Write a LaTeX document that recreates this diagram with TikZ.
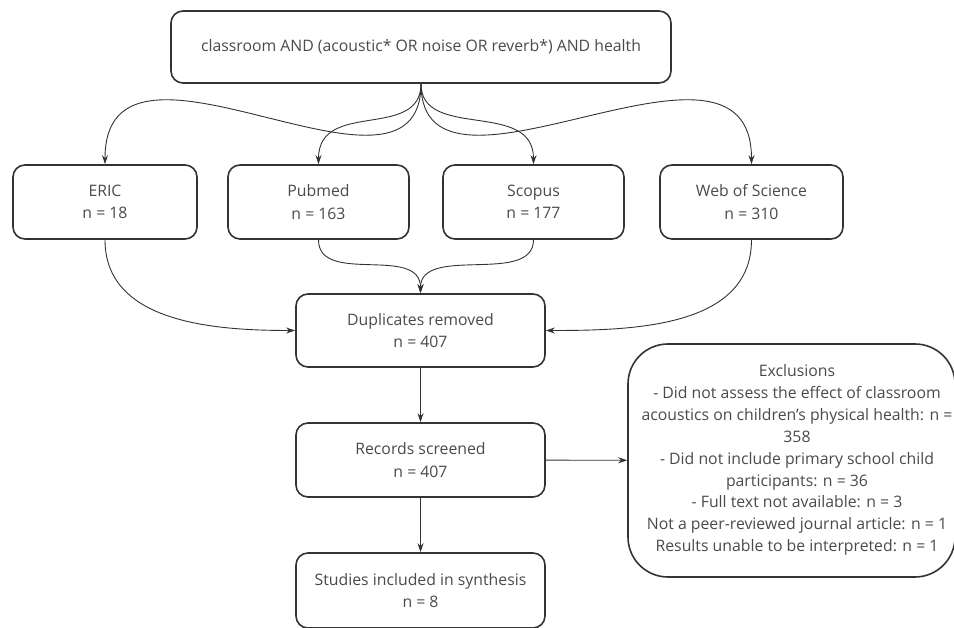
\documentclass[tikz,border=0pt]{standalone}
\usepackage{fontspec}
\setmainfont{Open Sans}
\usetikzlibrary{arrows.meta}
\definecolor{linegray}{HTML}{333333}
\definecolor{textgray}{HTML}{4A4A4A}
\begin{document}
\begin{tikzpicture}[x=1pt, y=-1pt,
  box/.style={draw=linegray, line width=1.6pt, rounded corners=12pt, align=center,
    text=textgray, font=\fontsize{15.8}{22.5}\selectfont, inner sep=0pt},
  link/.style={draw=linegray, line width=0.9pt, -{Stealth[length=9pt,width=6pt]}}]
\useasboundingbox (0,0) rectangle (954,628);
\node[box, minimum width=500pt, minimum height=72pt] (query) at (421,47){classroom AND (acoustic* OR noise OR reverb*) AND health};
\node[box, minimum width=184pt, minimum height=74pt] (eric) at (105,202){ERIC\\n = 18};
\node[box, minimum width=181pt, minimum height=74pt] (pubmed) at (318.5,202){Pubmed\\n = 163};
\node[box, minimum width=181pt, minimum height=74pt] (scopus) at (533.5,202){Scopus\\n = 177};
\node[box, minimum width=183pt, minimum height=74pt] (wos) at (751.5,202){Web of Science\\n = 310};
\node[box, minimum width=249pt, minimum height=73pt] (dup) at (420.5,330.5){Duplicates removed\\n = 407};
\node[box, minimum width=249pt, minimum height=74pt] (screen) at (420.5,460){Records screened\\n = 407};
\node[box, minimum width=249pt, minimum height=75pt] (incl) at (420.5,590.5){Studies included in synthesis\\n = 8};
\node[box, rounded corners=40pt, minimum width=327pt, minimum height=233pt] (exc) at (791.5,460.5){};
\node[text=textgray, align=center, font=\fontsize{15.8}{21.9}\selectfont, inner sep=0pt] (exctext) at (797,460){Exclusions\\- Did not assess the effect of classroom\\acoustics on children's physical health: n =\\358\\- Did not include primary school child\\participants: n = 36\\- Full text not available: n = 3\\Not a peer-reviewed journal article: n = 1\\Results unable to be interpreted: n = 1};
\draw[link](query.south) to[out=-90, in=90, out distance=147pt, in distance=165pt] (eric.north);
\draw[link](query.south) to[out=-90, in=90, out distance=57pt, in distance=65pt] (pubmed.north);
\draw[link](query.south) to[out=-90, in=90, out distance=57pt, in distance=65pt] (scopus.north);
\draw[link](query.south) to[out=-90, in=90, out distance=147pt, in distance=165pt] (wos.north);
\draw[link](eric.south) to[out=-90, in=180] (dup.west);
\draw[link](pubmed.south) to[out=-90, in=90, out distance=46pt, in distance=49pt] (dup.north);
\draw[link](scopus.south) to[out=-90, in=90, out distance=46pt, in distance=49pt] (dup.north);
\draw[link](wos.south) to[out=-90, in=0] (dup.east);
\draw[link](dup) -- (screen);
\draw[link](screen) -- (incl);
\draw[link](screen) -- (exc);

\end{tikzpicture}
\end{document}
